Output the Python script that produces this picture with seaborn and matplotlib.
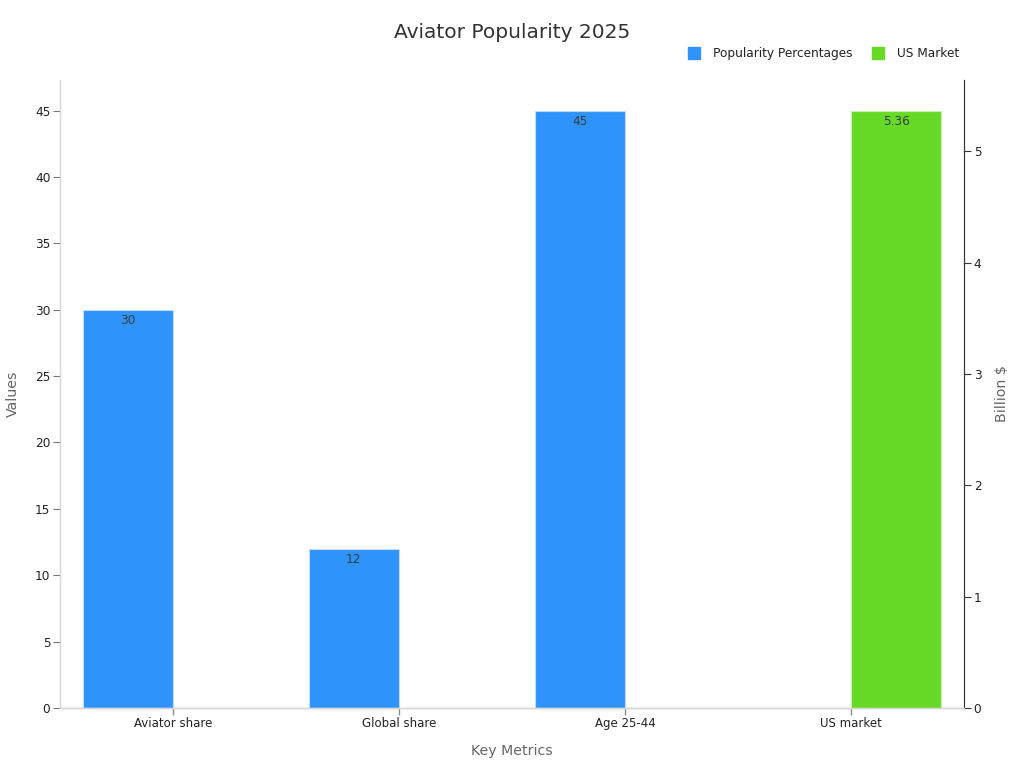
import matplotlib
matplotlib.use("Agg")
import matplotlib.pyplot as plt
from matplotlib.lines import Line2D
import pandas as pd
import seaborn as sns

categories = ["Aviator share", "Global share", "Age 25-44", "US market"]
popularity = [30, 12, 45]
popularity_cats = ["Aviator share", "Global share", "Age 25-44"]
market = [5.36]
market_cats = ["US market"]
BLUE = "#2e93fa"
GREEN = "#66da26"
GRAY = "#d6d6d6"
TXT = "#373d3f"

sns.set_theme(style="white")
plt.rcParams["font.family"] = ["DejaVu Sans"]
fig = plt.figure(figsize=(10.24, 7.68), dpi=100)
ax = fig.add_axes([60/1024, 1-708/768, (964-60)/1024, (708-80)/768])
ax2 = ax.twinx()

df1 = pd.DataFrame({"cat": popularity_cats, "v": popularity})
df2 = pd.DataFrame({"cat": market_cats, "v": market})
order = categories
sns.barplot(data=df1, x="cat", y="v", order=order, color=BLUE, width=0.4, ax=ax, saturation=1, edgecolor="#bfdcfc", linewidth=0.8)
sns.barplot(data=df2, x="cat", y="v", order=order, color=GREEN, width=0.4, ax=ax2, saturation=1, edgecolor="#c8f0b0", linewidth=0.8)

# offset: blue left of tick, green right of tick
for p in ax.patches:
    p.set_x(p.get_x() - p.get_width()/2)
for p in ax2.patches:
    p.set_x(p.get_x() + p.get_width()/2)

ax.set_xlim(-0.5, 3.5)
ax.set_ylim(0, 47.3)
ax2.set_ylim(0, 5.64)
ax.set_yticks(range(0, 50, 5))
ax2.set_yticks(range(0, 6))
ax.set_xticks(range(4))
ax.set_xticklabels(categories)
ax.tick_params(axis="x", length=5, width=1, color="#8a8a8a", labelsize=8.5, labelcolor="#222222", pad=1.5, bottom=True)
ax.tick_params(axis="y", length=5, width=0.8, color="#777777", labelsize=8.7, labelcolor="#222222", pad=2, left=True)
ax2.tick_params(axis="y", length=5, width=0.8, color="#333333", labelsize=8.7, labelcolor="#222222", pad=2, right=True)
ax.set_xlabel("Key Metrics", fontsize=10.2, color="#666666", labelpad=10)
ax.set_ylabel("Values", fontsize=10.2, color="#666666", labelpad=11)
ax2.set_ylabel("Billion $", fontsize=10.2, color="#666666", labelpad=10)

for a in (ax, ax2):
    a.set_facecolor("none")
    a.spines["top"].set_visible(False)
    for s in a.spines.values():
        s.set_color(GRAY)
        s.set_linewidth(1)
ax2.spines["right"].set_color("#333333")
ax2.spines["right"].set_linewidth(0.8)
ax2.spines["left"].set_visible(False)

for p, v in zip(ax.patches, popularity):
    ax.annotate(str(v), (p.get_x()+p.get_width()/2, p.get_height()), xytext=(0, -3.2), textcoords="offset points",
                ha="center", va="top", fontsize=8.7, color=TXT)
for p, v in zip(ax2.patches, market):
    ax2.annotate(str(v), (p.get_x()+p.get_width()/2, p.get_height()), xytext=(0, -2.6), textcoords="offset points",
                 ha="center", va="top", fontsize=8.7, color=TXT)

fig.text(512/1024, 1-33/768, "Aviator Popularity 2025", ha="center", va="center", fontsize=14.5, color="#333333")
handles = [Line2D([], [], marker="s", ls="", ms=9, color=BLUE), Line2D([], [], marker="s", ls="", ms=9, color=GREEN)]
fig.legend(handles, ["Popularity Percentages", "US Market"], ncol=2, frameon=False, fontsize=8.7,
           loc="center right", bbox_to_anchor=(970/1024, 1-53.5/768), labelcolor="#222222", columnspacing=1.05, handletextpad=0.6)
fig.savefig("out.png", dpi=100)
